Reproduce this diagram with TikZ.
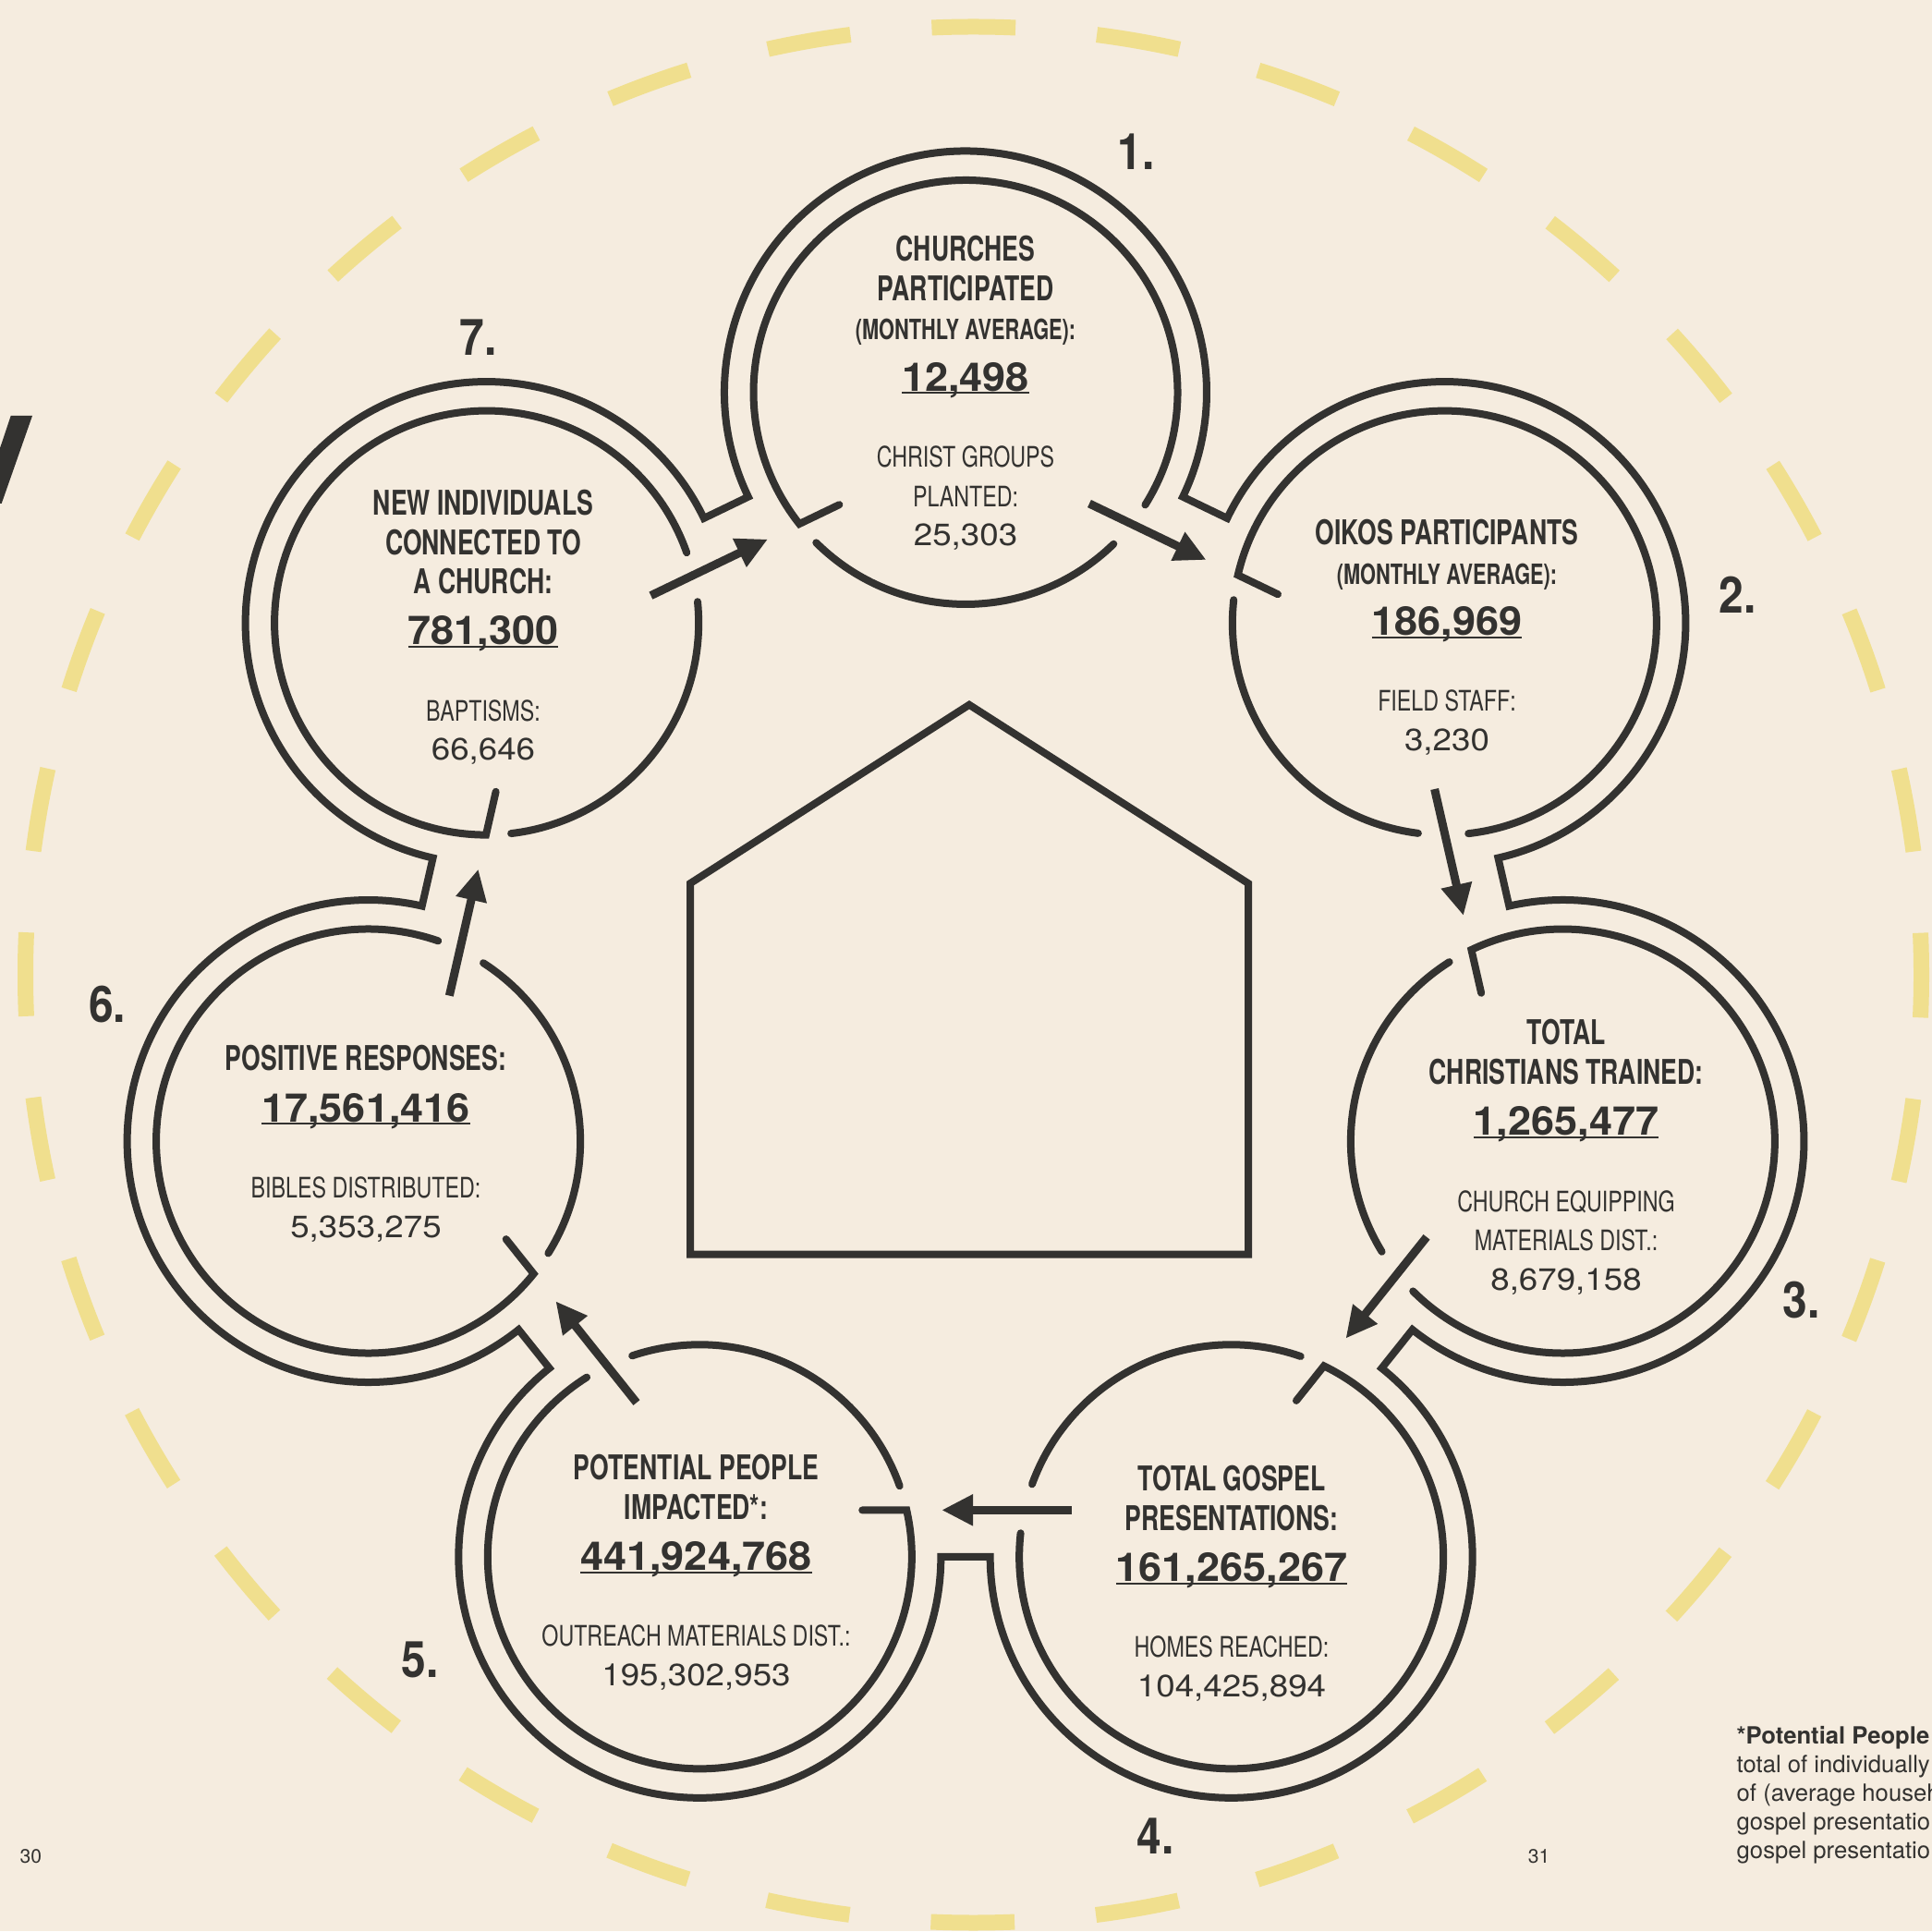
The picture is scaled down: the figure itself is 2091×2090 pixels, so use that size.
\documentclass[tikz,border=0pt]{standalone}
\usepackage{fontspec}
\setmainfont{TeX Gyre Heros}
\newfontfamily\headfont{TeX Gyre Heros}[FakeStretch=0.72]
\newfontfamily\labelfont{TeX Gyre Heros}[FakeStretch=0.76]
\newfontfamily\figfont{TeX Gyre Heros}[FakeStretch=1.05]
\newfontfamily\valfont{TeX Gyre Heros}[FakeStretch=1.10]
\newfontfamily\stepfont{TeX Gyre Heros}[FakeStretch=0.88]
\usetikzlibrary{arrows.meta,calc}
\definecolor{paper}{RGB}{245,236,223}
\definecolor{ink}{RGB}{51,50,48}
\definecolor{halo}{RGB}{240,223,142}
\newcommand\statnote[1]{{\fontsize{8.6}{12.1}\selectfont #1}}
\newcommand\statfig[1]{{\figfont\bfseries\fontsize{12.2}{12.1}\selectfont\setbox0=\hbox{#1}\rlap{\rule[-0.95pt]{\wd0}{0.57pt}}\box0}}
\newcommand\statsub[1]{{\labelfont\mdseries\fontsize{8.7}{12.1}\selectfont #1}}
\newcommand\statval[1]{{\valfont\mdseries\fontsize{9.5}{12.1}\selectfont #1}}
\tikzset{
    wall/.style={draw=ink, line width=0.8mm, line cap=round, line join=miter},
    flow/.style={draw=ink, line width=0.9mm, -{Triangle[length=3.4mm, width=3.2mm]}},
    house/.style={draw=ink, line width=0.8mm, line join=miter},
    haloring/.style={draw=halo, line width=1.7mm, dash pattern=on 9.07mm off 8.837mm, dash phase=4.535mm}
}
\tikzset{
    stat/.style={align=center, inner sep=0pt, anchor=north, text=ink, font=\headfont\bfseries\fontsize{10.5}{12.1}\selectfont},
    stepno/.style={inner sep=0pt, text=ink, font=\stepfont\bfseries\fontsize{15.5}{16}\selectfont},
    note/.style={align=left, inner sep=0pt, anchor=north west, text=ink, font=\fontsize{7.3}{8.8}\selectfont},
    folio/.style={inner sep=0pt, text=ink, font=\fontsize{6}{7}\selectfont}
}

\begin{document}
\begin{tikzpicture}[x=0.1mm, y=0.1mm]
        \useasboundingbox (0,0) rectangle (2091,2090);
        \clip (0,0) rectangle (2091,2090);
        \fill[paper] (0,0) rectangle (2091,2090);
        \draw[haloring] (1053.5,1035) circle[radius=1026];
        \fill[ink] (0,1605) -- (11.7,1640) -- (35,1640) -- (1.7,1545) -- (0,1545) -- cycle;

        \coordinate (c1) at (1045.00, 1665.50);
        \coordinate (c2) at (1563.35, 1415.87);
        \coordinate (c3) at (1691.38, 854.97);
        \coordinate (c4) at (1332.66, 405.16);
        \coordinate (c5) at (757.34, 405.16);
        \coordinate (c6) at (398.62, 854.97);
        \coordinate (c7) at (526.65, 1415.87);

        \draw[house] (747,732.5) -- (747,1133.9) -- (1049,1327.2) -- (1351,1133.9) -- (1351,732.5) -- cycle;

        \draw[wall] ($(c1)+(205.71:261)$) arc[start angle=205.71, end angle=-25.71, radius=261]
                -- ($(c2)+(154.29:261)$) arc[start angle=154.29, end angle=-77.14, radius=261]
                -- ($(c3)+(102.86:261)$) arc[start angle=102.86, end angle=-128.57, radius=261]
                -- ($(c4)+(51.43:261)$) arc[start angle=51.43, end angle=-180, radius=261]
                -- ($(c5)+(0:261)$) arc[start angle=0, end angle=-231.43, radius=261]
                -- ($(c6)+(-51.43:261)$) arc[start angle=-51.43, end angle=-282.86, radius=261]
                -- ($(c7)+(-102.86:261)$) arc[start angle=-102.86, end angle=-334.29, radius=261]
                -- cycle;

        \draw[wall] ($(c1)+(-32.10:229.5)$) arc[start angle=-32.10, end angle=218.40, radius=229.5] -- ++(25.71:48);
        \draw[wall] ($(c1)+(225.20:229.5)$) arc[start angle=225.20, end angle=314.30, radius=229.5];
        \draw[wall] ($(c2)+(-83.53:229.5)$) arc[start angle=-83.53, end angle=166.97, radius=229.5] -- ++(-25.71:48);
        \draw[wall] ($(c2)+(173.77:229.5)$) arc[start angle=173.77, end angle=262.87, radius=229.5];
        \draw[wall] ($(c3)+(-134.96:229.5)$) arc[start angle=-134.96, end angle=115.54, radius=229.5] -- ++(-77.14:48);
        \draw[wall] ($(c3)+(122.34:229.5)$) arc[start angle=122.34, end angle=211.44, radius=229.5];
        \draw[wall] ($(c4)+(-186.39:229.5)$) arc[start angle=-186.39, end angle=64.11, radius=229.5] -- ++(-128.57:48);
        \draw[wall] ($(c4)+(70.91:229.5)$) arc[start angle=70.91, end angle=160.01, radius=229.5];
        \draw[wall] ($(c5)+(-237.81:229.5)$) arc[start angle=-237.81, end angle=12.69, radius=229.5] -- ++(180:48);
        \draw[wall] ($(c5)+(19.49:229.5)$) arc[start angle=19.49, end angle=108.59, radius=229.5];
        \draw[wall] ($(c6)+(-289.24:229.5)$) arc[start angle=-289.24, end angle=-38.74, radius=229.5] -- ++(128.57:48);
        \draw[wall] ($(c6)+(-31.94:229.5)$) arc[start angle=-31.94, end angle=57.16, radius=229.5];
        \draw[wall] ($(c7)+(-340.67:229.5)$) arc[start angle=-340.67, end angle=-90.17, radius=229.5] -- ++(77.14:48);
        \draw[wall] ($(c7)+(-83.37:229.5)$) arc[start angle=-83.37, end angle=5.73, radius=229.5];

        \coordinate (f1) at ($(c1)+(-25.71:173)+(-115.71:50.5)$);
        \coordinate (g1) at ($(c1)+(-25.71:313.5)+(-115.71:50.5)$);
        \coordinate (f2) at ($(c2)+(-77.14:173)+(-167.14:50.5)$);
        \coordinate (g2) at ($(c2)+(-77.14:313.5)+(-167.14:50.5)$);
        \coordinate (f3) at ($(c3)+(-128.57:173)+(-218.57:50.5)$);
        \coordinate (g3) at ($(c3)+(-128.57:313.5)+(-218.57:50.5)$);
        \coordinate (f4) at ($(c4)+(-180:173)+(-270:50.5)$);
        \coordinate (g4) at ($(c4)+(-180:313.5)+(-270:50.5)$);
        \coordinate (f5) at ($(c5)+(-231.43:173)+(-321.43:50.5)$);
        \coordinate (g5) at ($(c5)+(-231.43:313.5)+(-321.43:50.5)$);
        \coordinate (f6) at ($(c6)+(-282.86:173)+(-372.86:50.5)$);
        \coordinate (g6) at ($(c6)+(-282.86:313.5)+(-372.86:50.5)$);
        \coordinate (f7) at ($(c7)+(-334.29:173)+(-424.29:50.5)$);
        \coordinate (g7) at ($(c7)+(-334.29:313.5)+(-424.29:50.5)$);
        \draw[flow] (f1) -- (g1);
        \draw[flow] (f2) -- (g2);
        \draw[flow] (f3) -- (g3);
        \draw[flow] (f4) -- (g4);
        \draw[flow] (f5) -- (g5);
        \draw[flow] (f6) -- (g6);
        \draw[flow] (f7) -- (g7);

        \node[stat] (t1) at (1045, 1835.2) {CHURCHES\\ PARTICIPATED\\ \statnote{(MONTHLY AVERAGE):}\\[3.6pt] \statfig{12,498}\\[11.4pt] \statsub{CHRIST GROUPS}\\ \statsub{PLANTED:}\\ \statval{25,303}};
        \node[stat] (t2) at (1566, 1528.5) {OIKOS PARTICIPANTS\\ \statnote{(MONTHLY AVERAGE):}\\[3.6pt] \statfig{186,969}\\[11.4pt] \statsub{FIELD STAFF:}\\ \statval{3,230}};
        \node[stat] (t3) at (1695, 987.1) {TOTAL\\ CHRISTIANS TRAINED:\\[3.6pt] \statfig{1,265,477}\\[11.4pt] \statsub{CHURCH EQUIPPING}\\ \statsub{MATERIALS DIST.:}\\ \statval{8,679,158}};
        \node[stat] (t4) at (1333, 504.4) {TOTAL GOSPEL\\ PRESENTATIONS:\\[3.6pt] \statfig{161,265,267}\\[11.4pt] \statsub{HOMES REACHED:}\\ \statval{104,425,894}};
        \node[stat] (t5) at (753.5, 516.4) {POTENTIAL PEOPLE\\ IMPACTED*:\\[3.6pt] \statfig{441,924,768}\\[11.4pt] \statsub{OUTREACH MATERIALS DIST.:}\\ \statval{195,302,953}};
        \node[stat] (t6) at (396, 959.1) {POSITIVE RESPONSES:\\[3.6pt] \statfig{17,561,416}\\[11.4pt] \statsub{BIBLES DISTRIBUTED:}\\ \statval{5,353,275}};
        \node[stat] (t7) at (523, 1560.5) {NEW INDIVIDUALS\\ CONNECTED TO\\ A CHURCH:\\[3.6pt] \statfig{781,300}\\[11.4pt] \statsub{BAPTISMS:}\\ \statval{66,646}};

        \node[stepno] (n1) at (1229.5, 1926) {1.};
        \node[stepno] (n2) at (1880.5, 1446) {2.};
        \node[stepno] (n3) at (1949.6, 683) {3.};
        \node[stepno] (n4) at (1250.8, 103) {4.};
        \node[stepno] (n5) at (454.7, 294) {5.};
        \node[stepno] (n6) at (116, 1003) {6.};
        \node[stepno] (n7) at (517.4, 1724.6) {7.};

        \node[note] (fn) at (1879, 222) {\textbf{*Potential People}\\ total of individually\\ of (average househ\\ gospel presentatio\\ gospel presentatio};
        \node[folio] (p30) at (33.3, 80.4) {30};
        \node[folio] (p31) at (1665.5, 80.4) {31};
\end{tikzpicture}
\end{document}
